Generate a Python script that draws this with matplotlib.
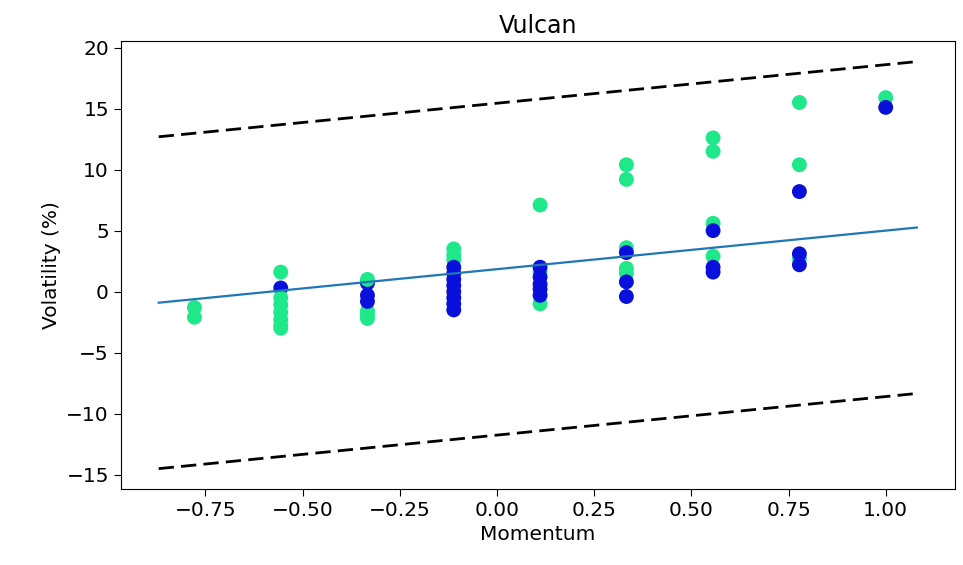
import matplotlib
matplotlib.use("Agg")
import matplotlib.pyplot as plt
from matplotlib.colors import ListedColormap
import numpy as np

# Momentum levels and observed volatility per observation; regime 0 = blue, 1 = green
momentum = [
    -0.778, -0.778,
    -0.556, -0.556, -0.556, -0.556, -0.556, -0.556, -0.556, -0.556,
    -0.333, -0.333, -0.333, -0.333, -0.333, -0.333, -0.333,
    -0.111, -0.111, -0.111, -0.111, -0.111, -0.111, -0.111, -0.111, -0.111, -0.111, -0.111,
    0.111, 0.111, 0.111, 0.111, 0.111, 0.111, 0.111, 0.111,
    0.333, 0.333, 0.333, 0.333, 0.333, 0.333, 0.333, 0.333,
    0.556, 0.556, 0.556, 0.556, 0.556, 0.556, 0.556,
    0.778, 0.778, 0.778, 0.778, 0.778, 0.778,
    1.0, 1.0,
]
volatility = [
    -1.3, -2.1,
    1.6, 0.3, -0.5, -1.1, -1.7, -2.3, -2.8, -3.0,
    0.7, 1.0, -1.6, -2.2, -1.9, -0.3, -0.8,
    3.5, 3.0, 2.6, 2.0, 1.5, 1.0, 0.5, 0.0, -0.5, -1.0, -1.5,
    7.1, 1.6, -1.0, 2.0, 1.2, 0.6, 0.2, -0.3,
    10.4, 9.2, 3.6, 1.9, 1.5, 3.2, 0.8, -0.4,
    12.6, 11.5, 5.6, 2.9, 5.0, 2.0, 1.6,
    15.5, 10.4, 2.7, 8.2, 3.1, 2.2,
    15.9, 15.1,
]
regime = [
    1, 1,
    1, 0, 1, 1, 1, 1, 1, 1,
    0, 1, 1, 1, 1, 0, 0,
    1, 1, 1, 0, 0, 0, 0, 0, 0, 0, 0,
    1, 1, 1, 0, 0, 0, 0, 0,
    1, 1, 1, 1, 1, 0, 0, 0,
    1, 1, 1, 1, 0, 0, 0,
    1, 1, 1, 0, 0, 0,
    1, 0,
]

# Fitted trend and prediction band
fit_x = [-0.87, 1.08]
fit_intercept = 1.84
fit_slope = 3.16
band_halfwidth = 13.6

fit_x = np.array(fit_x)
fit_y = fit_intercept + fit_slope * fit_x

plt.rcParams["font.family"] = ["DejaVu Sans"]
plt.rcParams["font.size"] = 14.5

fig = plt.figure(figsize=(9.63, 5.65), dpi=100)
ax = fig.add_axes([0.1254, 0.1345, 0.866, 0.7925])

regime_cmap = ListedColormap(["#0a10dc", "#1ee88a"])
ax.scatter(momentum, volatility, c=regime, cmap=regime_cmap, s=115, vmin=0, vmax=1,
           linewidths=0)
ax.plot(fit_x, fit_y, color="#1f77b4", lw=1.6)
ax.plot(fit_x, fit_y + band_halfwidth, color="black", lw=2.0, linestyle=(0, (5.5, 2.6)))
ax.plot(fit_x, fit_y - band_halfwidth, color="black", lw=2.0, linestyle=(0, (5.5, 2.6)))

ax.set_xticks([-0.75, -0.5, -0.25, 0.0, 0.25, 0.5, 0.75, 1.0])
ax.set_yticks([-15, -10, -5, 0, 5, 10, 15, 20])
ax.set_xlabel("Momentum")
ax.set_ylabel("Volatility (%)")
ax.set_title("Vulcan", fontsize=17)
ax.tick_params(length=5)

fig.savefig("out.png", dpi=100)
